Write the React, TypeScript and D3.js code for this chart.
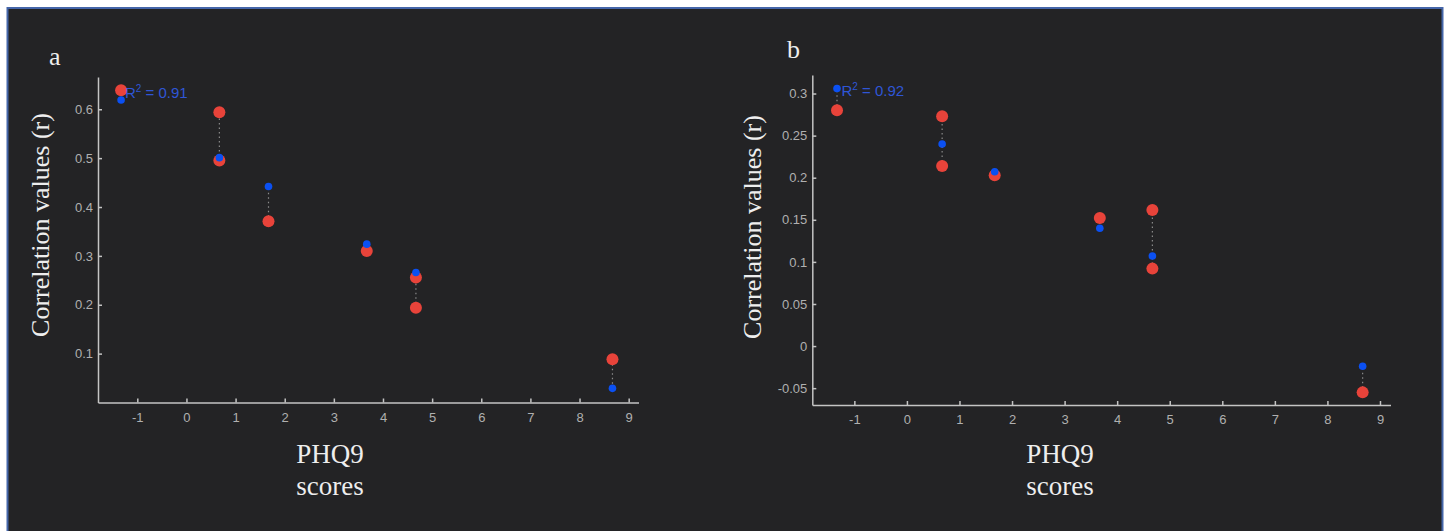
import React, { useEffect, useRef } from "react";
import * as d3 from "d3";

// PHQ9 score positions of the six groups (shared by both panels)
const phq9X = [-1.33, 0.67, 1.67, 3.67, 4.67, 8.67];
const xTicks = [-1, 0, 1, 2, 3, 4, 5, 6, 7, 8, 9];

// panel a
const fittedA = [0.619, 0.501, 0.442, 0.324, 0.266, 0.029];
const observedA = [[0.639], [0.594, 0.495], [0.371], [0.31], [0.256, 0.194], [0.0885]];
const yTicksA = [0.1, 0.2, 0.3, 0.4, 0.5, 0.6];
const r2A = "0.91";

// panel b
const fittedB = [0.306, 0.24, 0.207, 0.14, 0.107, -0.024];
const observedB = [[0.28], [0.273, 0.214], [0.203], [0.152], [0.1615, 0.092], [-0.055]];
const yTicksB = [-0.05, 0, 0.05, 0.1, 0.15, 0.2, 0.25, 0.3];
const r2B = "0.92";

const bg = "#232325";
const axisColor = "#c4c4c4";
const tickText = "#b0b0b0";
const red = "#e8433a";
const blue = "#0b50f2";
const r2Color = "#2f56d6";
const serif = "'Liberation Serif', 'DejaVu Serif', serif";
const sans = "'Liberation Sans', Arial, sans-serif";

const fmt = (v: number) => String(Math.round(v * 100) / 100);

const Panel = (props: any) => {
  const ref = useRef<SVGGElement>(null);

  useEffect(() => {
    const g = d3.select(ref.current);
    g.selectAll("*").remove();

    const x = d3.scaleLinear().domain([-1.8, 9.2]).range([props.left, props.right]);
    const y = d3.scaleLinear().domain(props.yDomain).range([props.bottom, props.top]);

    const xAxis = g
      .append("g")
      .attr("transform", `translate(0,${props.bottom})`)
      .call(
        d3.axisBottom(x).tickValues(xTicks).tickSizeInner(-4).tickSizeOuter(0).tickPadding(10).tickFormat(fmt as any)
      );
    const yAxis = g
      .append("g")
      .attr("transform", `translate(${props.left},0)`)
      .call(
        d3.axisLeft(y).tickValues(props.yTicks).tickSizeInner(-4).tickSizeOuter(0).tickPadding(5).tickFormat(fmt as any)
      );

    [xAxis, yAxis].forEach(a => {
      a.attr("font-size", 13).attr("font-family", sans);
      a.select(".domain").attr("stroke", axisColor).attr("stroke-width", 1.5);
      a.selectAll(".tick line").attr("stroke", axisColor).attr("stroke-width", 1.5);
      a.selectAll(".tick text").attr("fill", tickText);
    });

    // dotted connectors between fitted and observed values
    const groups = phq9X.map((px, i) => {
      const vals = [props.fitted[i], ...props.observed[i]];
      return { px, lo: d3.min(vals), hi: d3.max(vals) };
    });
    g.selectAll("line.conn")
      .data(groups)
      .enter()
      .append("line")
      .attr("class", "conn")
      .attr("x1", d => x(d.px))
      .attr("x2", d => x(d.px))
      .attr("y1", d => y(d.lo))
      .attr("y2", d => y(d.hi))
      .attr("stroke", "#8a8a8a")
      .attr("stroke-width", 1.2)
      .attr("stroke-dasharray", "1.5,3");

    const obs = phq9X.flatMap((px, i) => props.observed[i].map((v: number) => ({ px, v })));
    g.selectAll("circle.obs")
      .data(obs)
      .enter()
      .append("circle")
      .attr("class", "obs")
      .attr("cx", d => x(d.px))
      .attr("cy", d => y(d.v))
      .attr("r", 6)
      .attr("fill", red);

    g.selectAll("circle.fit")
      .data(phq9X.map((px, i) => ({ px, v: props.fitted[i] })))
      .enter()
      .append("circle")
      .attr("class", "fit")
      .attr("cx", d => x(d.px))
      .attr("cy", d => y(d.v))
      .attr("r", 3.8)
      .attr("fill", blue);

    const r2 = g
      .append("text")
      .attr("x", props.r2X)
      .attr("y", props.r2Y)
      .attr("fill", r2Color)
      .style("font-family", sans)
      .style("font-size", "15px");
    r2.append("tspan").text("R");
    r2.append("tspan").attr("dy", -6).style("font-size", "10px").text("2");
    r2.append("tspan").attr("dy", 6).text(` = ${props.r2}`);
  }, [props]);

  return (
    <g>
      <g ref={ref} />
      <text x={props.letterX} y={props.letterY} fill="#eeeeee" fontFamily={serif} fontSize={26}>
        {props.letter}
      </text>
      <text
        transform={`translate(${props.yLabelX},${props.yLabelY}) rotate(-90)`}
        textAnchor="middle"
        fill="#eeeeee"
        fontFamily={serif}
        fontSize={26}
      >
        Correlation values (r)
      </text>
      <text x={props.xLabelX} y={463} textAnchor="middle" fill="#eeeeee" fontFamily={serif} fontSize={27}>
        PHQ9
      </text>
      <text x={props.xLabelX} y={495} textAnchor="middle" fill="#eeeeee" fontFamily={serif} fontSize={27}>
        scores
      </text>
    </g>
  );
};

const App = () => {
  return (
    <svg width={1449} height={531} style={{ position: "absolute", left: 0, top: 0, background: "#ffffff" }}>
      <rect x={7.5} y={8} width={1435} height={530} fill={bg} stroke="#4566a9" strokeWidth={2} />
      <Panel
        left={98}
        right={638.5}
        top={77}
        bottom={402.5}
        yDomain={[0, 0.666]}
        yTicks={yTicksA}
        fitted={fittedA}
        observed={observedA}
        r2={r2A}
        r2X={125}
        r2Y={97.5}
        letter="a"
        letterX={49}
        letterY={65}
        yLabelX={49}
        yLabelY={225}
        xLabelX={330}
      />
      <Panel
        left={812.3}
        right={1390.5}
        top={75}
        bottom={405}
        yDomain={[-0.07, 0.322]}
        yTicks={yTicksB}
        fitted={fittedB}
        observed={observedB}
        r2={r2B}
        r2X={841.5}
        r2Y={96}
        letter="b"
        letterX={787}
        letterY={58}
        yLabelX={761}
        yLabelY={227}
        xLabelX={1060}
      />
    </svg>
  );
};

export default App;
